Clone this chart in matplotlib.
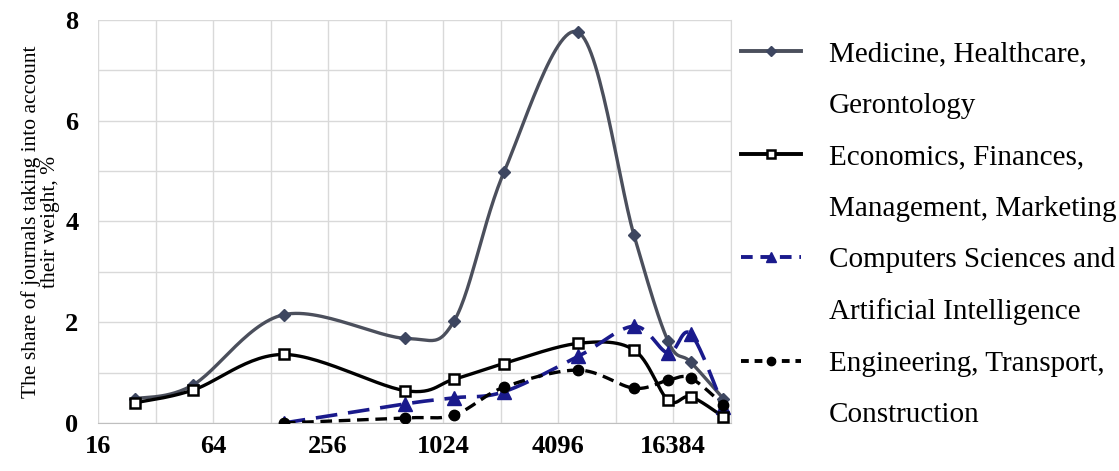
import numpy as np
import matplotlib.pyplot as plt
from matplotlib.lines import Line2D

# journal size bins (log2 axis)
x_all = [25, 50, 150, 650, 1170, 2130, 5200, 10200, 15400, 20200, 30000]
x_late = x_all[2:]

medicine = [0.48, 0.75, 2.15, 1.68, 2.03, 4.98, 7.76, 3.73, 1.62, 1.21, 0.48]
economics = [0.40, 0.65, 1.36, 0.64, 0.87, 1.18, 1.58, 1.45, 0.45, 0.52, 0.12]
computers = [0.0, 0.38, 0.50, 0.62, 1.32, 1.92, 1.39, 1.77, 0.32]
engineering = [0.0, 0.10, 0.16, 0.71, 1.05, 0.69, 0.85, 0.89, 0.36]

legend_lines = [
    ["Medicine, Healthcare,", "Gerontology"],
    ["Economics, Finances,", "Management, Marketing"],
    ["Computers Sciences and", "Artificial Intelligence"],
    ["Engineering, Transport,", "Construction"],
]

x_ticks = [16, 64, 256, 1024, 4096, 16384]
y_ticks = [0, 2, 4, 6, 8]


def smooth(xs, ys, n=30):
    # Catmull-Rom in log2(x) space, like Excel smoothed lines
    lx = np.log2(xs)
    ys = np.asarray(ys, float)
    P = np.column_stack([lx, ys])
    P = np.vstack([P[0], P, P[-1]])
    out = []
    for i in range(1, len(P) - 2):
        p0, p1, p2, p3 = P[i - 1], P[i], P[i + 1], P[i + 2]
        t = np.linspace(0, 1, n)[:, None]
        c = 0.5 * ((2 * p1) + (-p0 + p2) * t + (2 * p0 - 5 * p1 + 4 * p2 - p3) * t ** 2
                   + (-p0 + 3 * p1 - 3 * p2 + p3) * t ** 3)
        out.append(c)
    c = np.vstack(out)
    return 2 ** c[:, 0], c[:, 1]


plt.rcParams['font.family'] = ['Liberation Serif', 'DejaVu Serif']

fig = plt.figure(figsize=(11.19, 4.71), dpi=100)
ax = fig.add_axes([0.0876, 0.102, 0.5655, 0.8555])

med_c = '#4b4f5c'
comp_c = '#1a1a8c'

sx, sy = smooth(x_all, medicine)
ax.plot(sx, sy, color=med_c, lw=2.4, zorder=3)
ax.plot(x_all, medicine, ls='none', marker='D', ms=6.5, color='#3d4660', zorder=4)

sx, sy = smooth(x_all, economics)
ax.plot(sx, sy, color='black', lw=2.4, zorder=3)
ax.plot(x_all, economics, ls='none', marker='s', ms=7.5, mfc='white', mec='black', mew=1.8, zorder=5)

sx, sy = smooth(x_late, computers)
ax.plot(sx, sy, color=comp_c, lw=2.6, ls=(0, (6, 3)), zorder=3)
ax.plot(x_late, computers, ls='none', marker='^', ms=10, color=comp_c, zorder=4)

sx, sy = smooth(x_late, engineering)
ax.plot(sx, sy, color='black', lw=2.4, ls=(0, (3.5, 2)), zorder=3)
ax.plot(x_late, engineering, ls='none', marker='o', ms=7.5, color='black', zorder=4)

ax.set_xscale('log', base=2)
ax.set_xlim(16, 32768)
ax.set_ylim(0, 8)
ax.set_xticks(x_ticks)
ax.set_xticklabels([str(v) for v in x_ticks])
ax.set_xticks([2 ** k for k in range(4, 16)], minor=True)
ax.set_yticks(y_ticks)
ax.set_yticks(range(0, 9), minor=True)
ax.xaxis.set_minor_formatter(plt.NullFormatter())
ax.grid(True, which='both', color='#d9d9d9', lw=1.0)
ax.set_axisbelow(True)
for s in ['top', 'left']:
    ax.spines[s].set_visible(False)
ax.spines['right'].set_color('#d9d9d9')
ax.spines['bottom'].set_color('#bfbfbf')
ax.tick_params(which='both', length=0)
ax.tick_params(axis='x', pad=9)
ax.tick_params(axis='y', pad=14)
for lab in ax.get_xticklabels() + ax.get_yticklabels():
    lab.set_fontsize(19)
    lab.set_fontweight('bold')

ax.set_ylabel("The share of journals taking into account\ntheir weight, %", fontsize=15.5,
              linespacing=0.95, labelpad=4)

handles = [
    Line2D([], [], color=med_c, lw=2.8, marker='D', ms=5, mfc='#3d4660', mec='#3d4660'),
    Line2D([], [], color='black', lw=2.8, marker='s', ms=6, mfc='white', mec='black', mew=1.8),
    Line2D([], [], color=comp_c, lw=2.8, ls=(0, (3, 2)), marker='^', ms=7),
    Line2D([], [], color='black', lw=2.8, ls=(0, (2, 1.5)), marker='o', ms=6),
]
blank = Line2D([], [], ls='none')
hs, ls = [], []
for h, lines in zip(handles, legend_lines):
    hs += [h, blank]
    ls += lines
fig.legend(hs, ls, loc='upper left', bbox_to_anchor=(0.639, 0.969), frameon=False,
           fontsize=21, handlelength=2.05, handletextpad=0.96, labelspacing=0.86)

fig.savefig('out.png', dpi=100)
